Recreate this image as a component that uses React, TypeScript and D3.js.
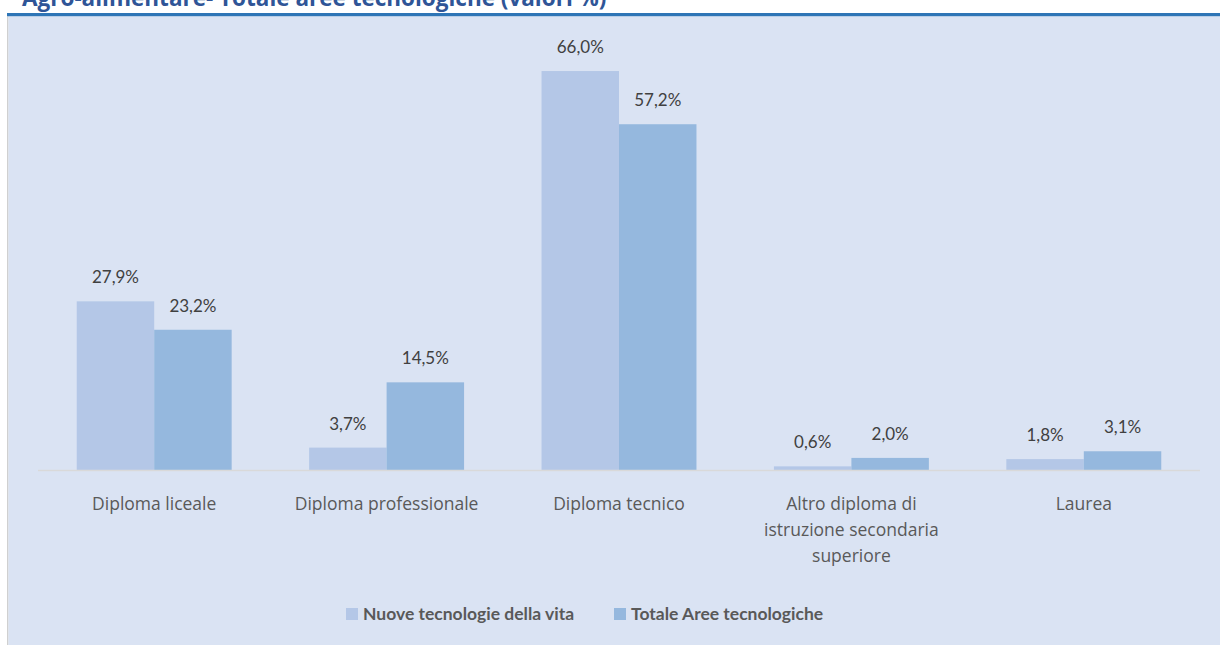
import * as d3 from "d3";

const categories = [
  "Diploma liceale",
  "Diploma professionale",
  "Diploma tecnico",
  "Altro diploma di istruzione secondaria superiore",
  "Laurea",
];
const categoryLines = [
  ["Diploma liceale"],
  ["Diploma professionale"],
  ["Diploma tecnico"],
  ["Altro diploma di", "istruzione secondaria", "superiore"],
  ["Laurea"],
];
const seriesNames = ["Nuove tecnologie della vita", "Totale Aree tecnologiche"];
const nuoveTecnologie = [27.9, 3.7, 66.0, 0.6, 1.8];
const totaleAree = [23.2, 14.5, 57.2, 2.0, 3.1];
const seriesColors = ["#B4C7E7", "#95B8DE"];

const title = "Agro-alimentare- Totale aree tecnologiche (valori %)";

const W = 1220;
const H = 646;
const lato = "Lato, 'Open Sans', sans-serif";
const openSans = "'Open Sans', Lato, sans-serif";

export default function App() {
  const series = [nuoveTecnologie, totaleAree];

  const x = d3.scaleBand<string>().domain(categories).range([38, 1200]);
  const xSub = d3
    .scaleBand<number>()
    .domain([0, 1])
    .range([x.bandwidth() / 6, (x.bandwidth() * 5) / 6]);
  const y = d3.scaleLinear().domain([0, 70]).range([470, 470 - 70 * 6.045]);

  const fmt = (v: number) => d3.format(".1f")(v).replace(".", ",") + "%";

  const legendX = [346, 614];

  return (
    <svg
      width={W}
      height={H}
      style={{ position: "absolute", left: 0, top: 0, display: "block" }}
      fontFamily={lato}
    >
      <rect width={W} height={H} fill="#ffffff" />
      {/* title is clipped at the top edge, as in the source */}
      <text x={22} y={6} fontSize={22.5} fontWeight="bold" fill="#2F5597" fontFamily={openSans}>
        {title}
      </text>
      <rect x={7} y={13} width={W - 7} height={3.5} fill="#2E75B6" />
      <rect x={7} y={16.5} width={1.5} height={628.5} fill="#D0D0D0" />
      <rect x={8.5} y={16.5} width={W - 8.5} height={628.5} fill="#DAE3F3" />

      {series.map((vals, s) => (
        <g key={s}>
          {vals.map((v, i) => {
            const bx = (x(categories[i]) ?? 0) + (xSub(s) ?? 0);
            return (
              <g key={i}>
                <rect
                  x={bx}
                  y={y(v)}
                  width={xSub.bandwidth()}
                  height={y(0) - y(v)}
                  fill={seriesColors[s]}
                />
                <text
                  x={bx + xSub.bandwidth() / 2}
                  y={y(v) - 18}
                  textAnchor="middle"
                  fontSize={17}
                  fill="#404040"
                >
                  {fmt(v)}
                </text>
              </g>
            );
          })}
        </g>
      ))}

      <line x1={38} x2={1200} y1={470.5} y2={470.5} stroke="#D9D9D9" strokeWidth={1.5} />

      {categories.map((c, i) => (
        <text
          key={c}
          x={(x(c) ?? 0) + x.bandwidth() / 2}
          y={510}
          textAnchor="middle"
          fontSize={17.5}
          fill="#595959"
          fontFamily={openSans}
        >
          {categoryLines[i].map((line, k) => (
            <tspan key={k} x={(x(c) ?? 0) + x.bandwidth() / 2} dy={k === 0 ? 0 : 26}>
              {line}
            </tspan>
          ))}
        </text>
      ))}

      {seriesNames.map((name, s) => (
        <g key={name} transform={`translate(${legendX[s]},608)`}>
          <rect width={12} height={12} fill={seriesColors[s]} />
          <text x={17} y={12} fontSize={17.5} fontWeight="bold" fill="#595959">
            {name}
          </text>
        </g>
      ))}
    </svg>
  );
}
